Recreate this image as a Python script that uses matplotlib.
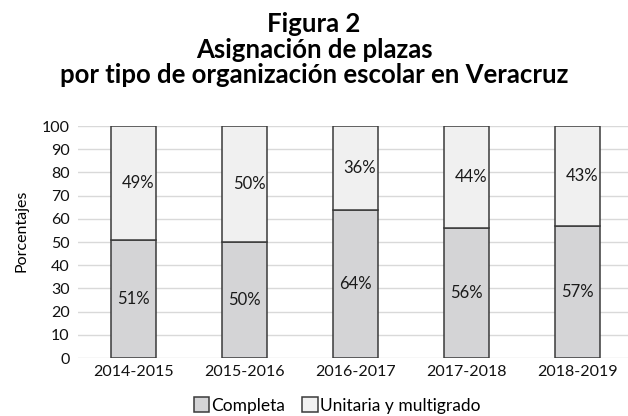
import numpy as np
import matplotlib.pyplot as plt

plt.rcParams['font.family'] = ['Lato', 'DejaVu Sans']

ciclos = ["2014-2015", "2015-2016", "2016-2017", "2017-2018", "2018-2019"]
completa = [51, 50, 64, 56, 57]
unitaria = [49, 50, 36, 44, 43]

fig = plt.figure(figsize=(6.28, 4.16), dpi=100)
ax = fig.add_axes([78 / 628, 1 - 358 / 416, 550 / 628, 232 / 416])

x = np.arange(len(ciclos))
ancho = 0.405
b1 = ax.bar(x, completa, ancho, color='#d4d4d6', edgecolor='#3a3a3a', linewidth=1.1,
            label='Completa', zorder=3)
b2 = ax.bar(x, unitaria, ancho, bottom=completa, color='#f0f0f0', edgecolor='#3a3a3a',
            linewidth=1.1, label='Unitaria y multigrado', zorder=3)

for i in range(len(ciclos)):
    ax.text(x[i], completa[i] / 2, f"{completa[i]}%", ha='center', va='center',
            fontsize=12, color='#1a1a1a', zorder=4)
    ax.text(x[i] + 0.04, completa[i] + unitaria[i] / 2, f"{unitaria[i]}%", ha='center',
            va='center', fontsize=12, color='#1a1a1a', zorder=4)

ax.set_xlim(-0.5, 4.455)
ax.set_ylim(0, 100)
ax.set_yticks(range(0, 101, 10))
ax.set_xticks(x)
ax.set_xticklabels(ciclos)
ax.tick_params(axis='both', length=0, labelsize=11.5, colors='#111111')
ax.tick_params(axis='y', pad=6)
ax.tick_params(axis='x', pad=5)
ax.grid(axis='y', color='#d9d9d9', linewidth=1, zorder=0)
for s in ax.spines.values():
    s.set_visible(False)
ax.set_ylabel("Porcentajes", fontsize=11.5)
ax.yaxis.set_label_coords(-0.09, 0.55)

fig.text(0.5, 0.97, "Figura 2\nAsignación de plazas\npor tipo de organización escolar en Veracruz",
         ha='center', va='top', fontsize=18.5, fontweight='bold', linespacing=1.07)

ax.legend(loc='center', bbox_to_anchor=((337 - 78) / 550, -0.205), ncol=2, frameon=False,
          fontsize=12.5, handlelength=0.9, handleheight=0.9, handletextpad=0.1,
          columnspacing=1.0, borderaxespad=0, borderpad=0)

fig.savefig("out.png", dpi=100)
